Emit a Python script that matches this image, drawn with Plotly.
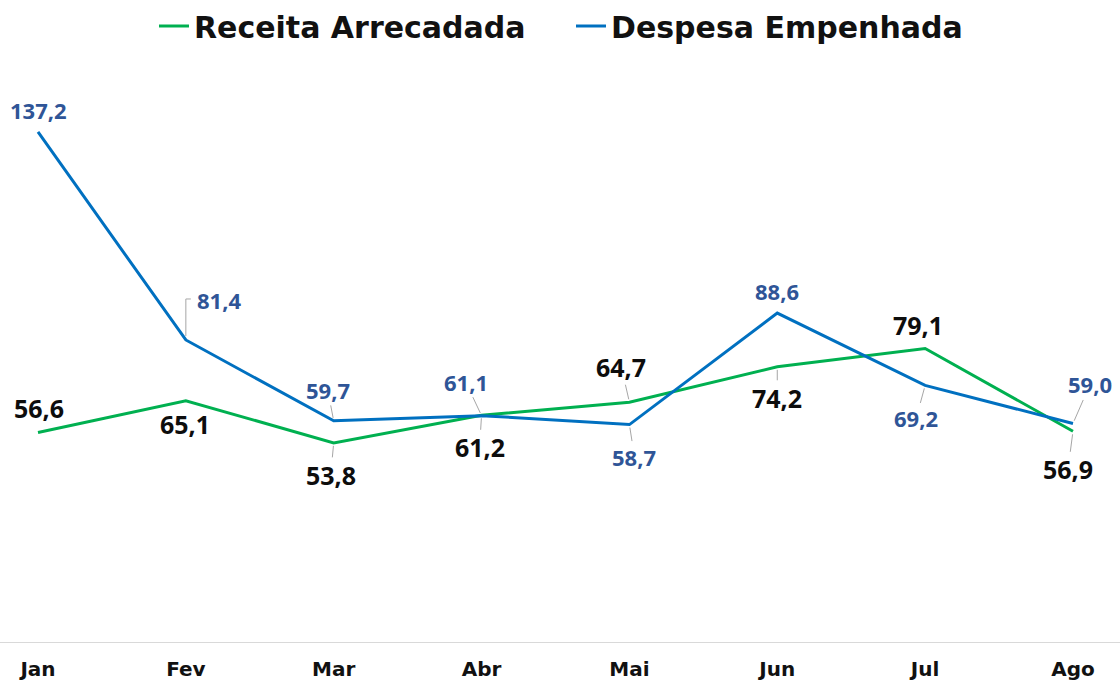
import plotly.graph_objects as go

months = ["Jan", "Fev", "Mar", "Abr", "Mai", "Jun", "Jul", "Ago"]
receita = [56.6, 65.1, 53.8, 61.2, 64.7, 74.2, 79.1, 56.9]
despesa = [137.2, 81.4, 59.7, 61.1, 58.7, 88.6, 69.2, 59.0]

# label offsets in pixels (dx, dy with dy positive downward), and whether a leader line is drawn
rec_off = [(1, -24, False), (-1, 23, False), (-3, 32, True), (-2, 32, True),
           (-8, -35, True), (0, 31, True), (-7, -24, False), (-5, 38, True)]
des_off = [(0, -22, False), (33, -40, False), (-6, -31, True), (-16, -34, True),
           (5, 32, True), (0, -22, False), (-9, 33, True), (17, -39, True)]

GREEN = "#00B050"
BLUE = "#0070C0"
BLUE_LBL = "#2F5597"
BLACK = "#0D0D0D"
LEADER = "#A6A6A6"

fig = go.Figure()
fig.add_trace(go.Scatter(x=months, y=receita, mode="lines", name="Receita Arrecadada",
                         line=dict(color=GREEN, width=3), hoverinfo="skip"))
fig.add_trace(go.Scatter(x=months, y=despesa, mode="lines", name="Despesa Empenhada",
                         line=dict(color=BLUE, width=3), hoverinfo="skip"))

def fmt(v):
    return f"{v:.1f}".replace(".", ",")

annotations = []
for series, offs, color, size in ((receita, rec_off, BLACK, 25), (despesa, des_off, BLUE_LBL, 22)):
    for m, v, (dx, dy, lead) in zip(months, series, offs):
        font = dict(family="Open Sans", size=size, color=color, weight="bold")
        if lead:
            annotations.append(dict(x=m, y=v, xref="x", yref="y", text=fmt(v), font=font,
                                    showarrow=True, arrowhead=0, arrowwidth=1, arrowcolor=LEADER,
                                    ax=dx, ay=dy, standoff=3, borderpad=0))
        else:
            annotations.append(dict(x=m, y=v, xref="x", yref="y", text=fmt(v), font=font,
                                    showarrow=False, xshift=dx, yshift=-dy))

# elbow leader for the February expense label
shapes = [dict(type="path", xref="x", yref="y", xsizemode="pixel", ysizemode="pixel",
               xanchor=months[1], yanchor=despesa[1],
               path="M 0,4 L 0,41 L 5,41", line=dict(color=LEADER, width=1))]

fig.update_layout(
    width=1120, height=681,
    paper_bgcolor="white", plot_bgcolor="white",
    margin=dict(l=0, r=0, t=60, b=39),
    showlegend=True,
    legend=dict(orientation="h", x=0.5098, xanchor="center", y=1, yanchor="top", yref="container",
                font=dict(family="DejaVu Sans", size=30, color="#111111", weight="bold"),
                entrywidth=372, itemwidth=30, bgcolor="rgba(0,0,0,0)"),
    xaxis=dict(range=[-0.257, 7.318], showgrid=False, zeroline=False,
               showline=True, linecolor="#D9D9D9", linewidth=1,
               tickfont=dict(family="DejaVu Sans", size=20, color="#111111", weight="bold"),
               ticklabelstandoff=9, fixedrange=True),
    yaxis=dict(range=[0.38, 156.5], visible=False, fixedrange=True),
    annotations=annotations,
    shapes=shapes,
)

fig.write_html("out.html", post_script="document.body.style.margin='0';",
               config={"displayModeBar": False})
